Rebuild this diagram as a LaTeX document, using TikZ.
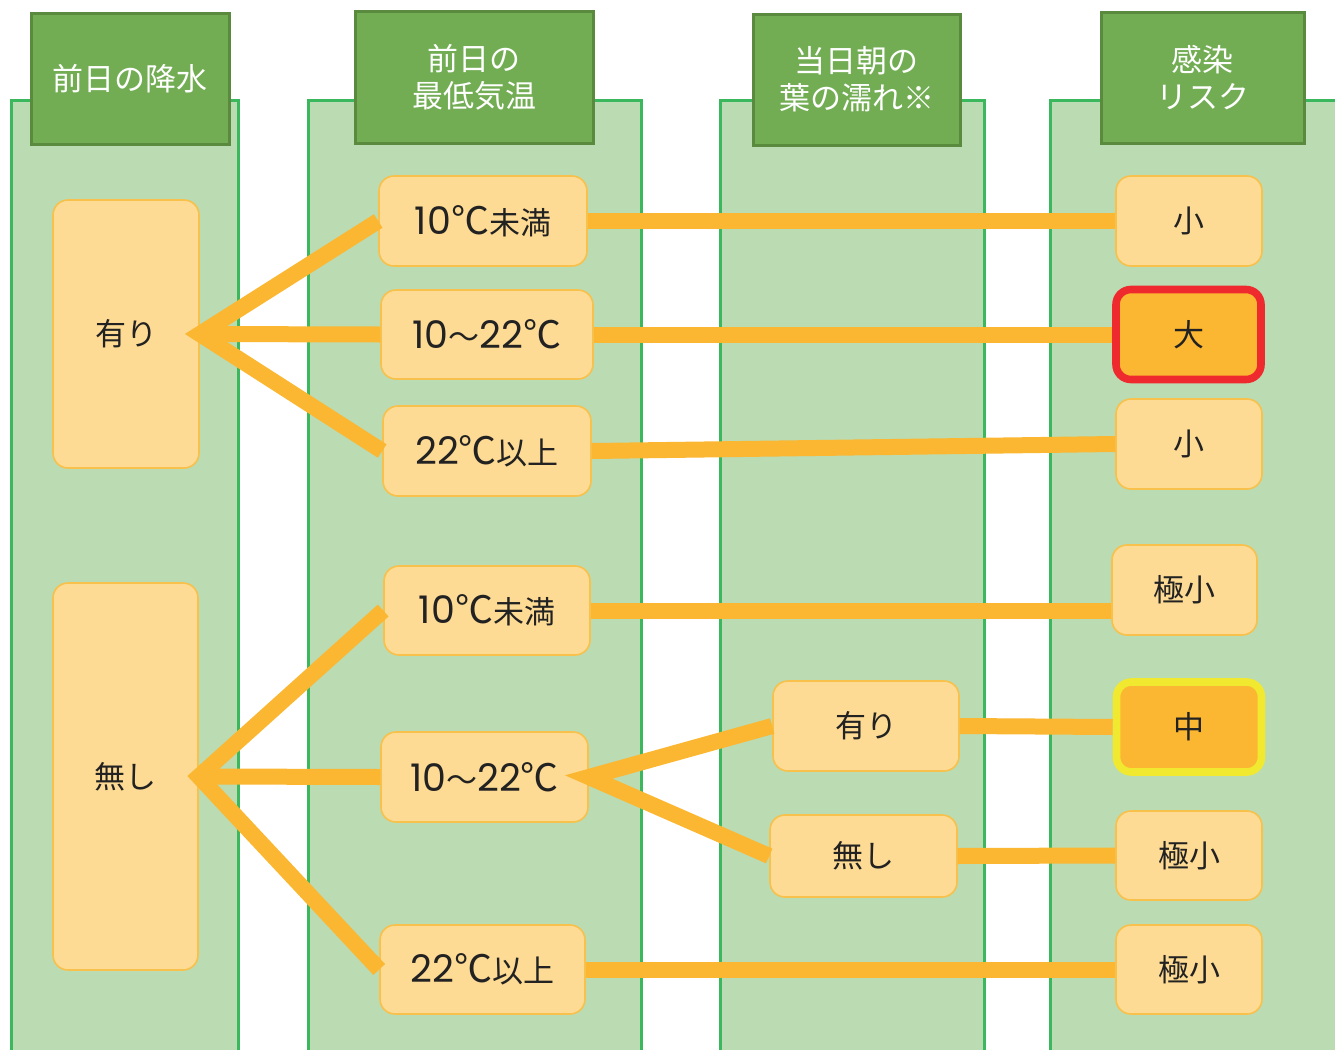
\documentclass[tikz,border=0pt]{standalone}
\usepackage{fontspec}
\setmainfont{Noto Sans CJK JP}
\newfontfamily\numfont{Poppins}
\newcommand\dg[1]{{\numfont\fontsize{19}{18.5}\selectfont #1}}
\newcommand\celsius{{\fontsize{19}{18.5}\selectfont ℃}}
\begin{document}
\begin{tikzpicture}[x=0.5pt,y=-0.5pt,
  colbox/.style={draw=colline,fill=colfill,line width=1.5pt,inner sep=0pt},
  hdr/.style={draw=hdrline,fill=hdrfill,line width=1.5pt,inner sep=0pt,text=white,
    font=\fontsize{15.5}{18.5}\selectfont,align=center},
  opt/.style={draw=optline,fill=optfill,line width=0.8pt,rounded corners=7.5pt,inner sep=0pt,
    text=txt,font=\fontsize{15.5}{18.5}\selectfont,align=center},
  hot/.style={opt,fill=hotfill,line width=3.8pt},
  link/.style={draw=linkc,line width=8pt,line cap=butt}]
\definecolor{colline}{HTML}{3BB75E}
\definecolor{colfill}{HTML}{BBDBB3}
\definecolor{hdrline}{HTML}{5A8A3E}
\definecolor{hdrfill}{HTML}{72AD54}
\definecolor{optline}{HTML}{F7C14C}
\definecolor{optfill}{HTML}{FEDB94}
\definecolor{hotfill}{HTML}{FBB731}
\definecolor{linkc}{HTML}{FBB731}
\definecolor{redb}{HTML}{EE2A2F}
\definecolor{yelb}{HTML}{F0E930}
\definecolor{txt}{HTML}{222222}
\useasboundingbox (0,0) rectangle (1335,1050);
% columns
\node[colbox,minimum width=113.5pt,minimum height=480pt] (col1) at (124.5,580) {};
\node[colbox,minimum width=166.5pt,minimum height=480pt] (col2) at (474.5,580) {};
\node[colbox,minimum width=132pt,minimum height=480pt] (col3) at (852,580) {};
\node[colbox,minimum width=160pt,minimum height=480pt] (col4) at (1210,580) {};
% headers
\node[hdr,minimum width=99pt,minimum height=65.5pt] (h1) at (130,78.5) {前日の降水};
\node[hdr,minimum width=119pt,minimum height=66pt] (h2) at (474,77) {前日の\\最低気温};
\node[hdr,minimum width=103.5pt,minimum height=65.5pt] (h3) at (856.5,79.5) {当日朝の\\葉の濡れ※};
\node[hdr,minimum width=101.5pt,minimum height=65.5pt] (h4) at (1202.5,77.5) {感染\\リスク};
% first level
\node[opt,minimum width=73pt,minimum height=134pt] (a1) at (126,334) {有り};
\node[opt,minimum width=72.5pt,minimum height=193.5pt] (a2) at (125.5,776.5) {無し};
% temperature
\node[opt,minimum width=104pt,minimum height=45pt] (b1) at (483,221) {\dg{10}\celsius 未満};
\node[opt,minimum width=106pt,minimum height=44.5pt] (b2) at (487,334.5) {\dg{10}～\dg{22}\celsius};
\node[opt,minimum width=104pt,minimum height=45pt] (b3) at (487,451) {\dg{22}\celsius 以上};
\node[opt,minimum width=103pt,minimum height=44.5pt] (b4) at (487,610.5) {\dg{10}\celsius 未満};
\node[opt,minimum width=103.5pt,minimum height=45pt] (b5) at (484.5,777) {\dg{10}～\dg{22}\celsius};
\node[opt,minimum width=102.5pt,minimum height=44.5pt] (b6) at (482.5,969.5) {\dg{22}\celsius 以上};
% leaf wetness
\node[opt,minimum width=93pt,minimum height=45pt] (c1) at (866,726) {有り};
\node[opt,minimum width=93.5pt,minimum height=41pt] (c2) at (863.5,856) {無し};
% risk
\node[opt,minimum width=73pt,minimum height=45pt] (d1) at (1189,221) {小};
\node[hot,draw=redb,minimum width=72.5pt,minimum height=45pt] (d2) at (1188.5,334.5) {大};
\node[opt,minimum width=73pt,minimum height=45pt] (d3) at (1189,444) {小};
\node[opt,minimum width=72.5pt,minimum height=45pt] (d4) at (1184.5,590) {極小};
\node[hot,draw=yelb,minimum width=72.5pt,minimum height=45pt] (d5) at (1189,727) {中};
\node[opt,minimum width=73pt,minimum height=44.5pt] (d6) at (1189,855.5) {極小};
\node[opt,minimum width=73pt,minimum height=44.5pt] (d7) at (1189,969.5) {極小};
% connectors
\draw[link] (b1.west) -- (a1.east) -- (b3.west);
\draw[link] (a1.east) -- (b2.west);
\draw[link] (b1.east) -- (d1.west);
\draw[link] (b2.east) -- (d2.west);
\draw[link] (b3.east) -- (d3.west);
\draw[link] (b4.west) -- (a2.east) -- (b6.west);
\draw[link] (a2.east) -- (b5.west);
\draw[link] (b4.east) -- (b4.east -| d4.west);
\draw[link] (c1.west) -- (b5.east) -- (c2.west);
\draw[link] (c1.east) -- (d5.west);
\draw[link] (c2.east) -- (d6.west);
\draw[link] (b6.east) -- (d7.west);
\end{tikzpicture}
\end{document}
